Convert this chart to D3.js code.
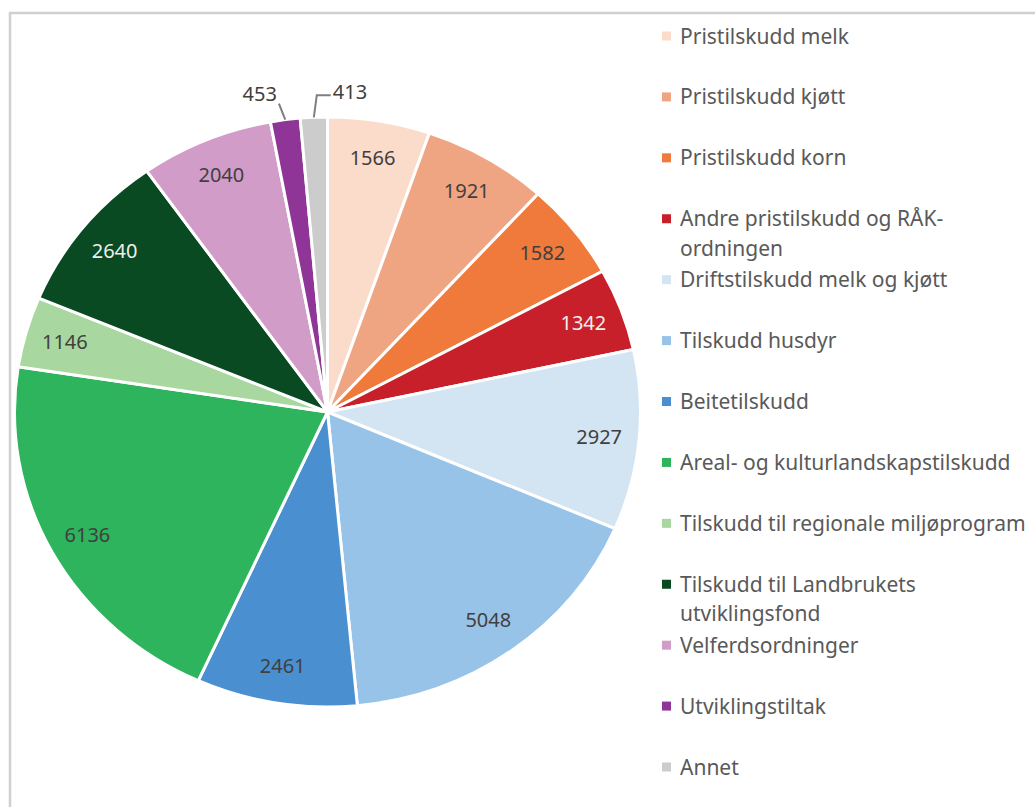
<!DOCTYPE html>
<html><head><meta charset="utf-8">
<script src="https://cdn.jsdelivr.net/npm/d3@7"></script>
<style>body{margin:0;background:#fff}svg{display:block}</style>
</head><body><svg id="c" width="1035" height="807"></svg>
<script>
const categories = ["Pristilskudd melk","Pristilskudd kjøtt","Pristilskudd korn","Andre pristilskudd og RÅK-ordningen","Driftstilskudd melk og kjøtt","Tilskudd husdyr","Beitetilskudd","Areal- og kulturlandskapstilskudd","Tilskudd til regionale miljøprogram","Tilskudd til Landbrukets utviklingsfond","Velferdsordninger","Utviklingstiltak","Annet"];
const legendLines = [["Pristilskudd melk"],["Pristilskudd kjøtt"],["Pristilskudd korn"],["Andre pristilskudd og RÅK-","ordningen"],["Driftstilskudd melk og kjøtt"],["Tilskudd husdyr"],["Beitetilskudd"],["Areal- og kulturlandskapstilskudd"],["Tilskudd til regionale miljøprogram"],["Tilskudd til Landbrukets","utviklingsfond"],["Velferdsordninger"],["Utviklingstiltak"],["Annet"]];
const values = [1566,1921,1582,1342,2927,5048,2461,6136,1146,2640,2040,453,413];
const colors = ["#fbdccb","#f0a582","#ef7a3c","#c8202a","#d3e4f3","#98c3e8","#4a8fcf","#2db45c","#a8d8a0","#0a4a22","#d29cc8","#8e3597","#cccccc"];
const whiteLabel = [false,false,false,true,false,false,false,false,false,true,false,false,false];
const outsideLabel = [false,false,false,false,false,false,false,false,false,false,false,true,true];

const svg = d3.select("#c");
const W = 1035, H = 807;
const FONT = "Noto Sans, sans-serif";
// frame
svg.append("rect").attr("x",10).attr("y",13).attr("width",W+20).attr("height",H+20)
  .attr("fill","none").attr("stroke","#d0d0d0").attr("stroke-width",2.5);

const cx = 327.5, cy = 412, rx = 313, ry = 295;
const sy = ry/rx;
const pie = d3.pie().sort(null).value(d=>d)(values);
const arc = d3.arc().innerRadius(0).outerRadius(rx);

const g = svg.append("g").attr("transform",`translate(${cx},${cy}) scale(1,${sy})`);
g.selectAll("path").data(pie).join("path")
  .attr("d",arc).attr("fill",(d,i)=>colors[i])
  .attr("stroke","#fff").attr("stroke-width",3).attr("vector-effect","non-scaling-stroke")
  .attr("stroke-linejoin","round");

function pt(a, r){ return [cx + Math.sin(a)*r, cy - Math.cos(a)*r*sy]; }

const lg = svg.append("g");
pie.forEach((d,i)=>{
  const a = (d.startAngle+d.endAngle)/2;
  if(!outsideLabel[i]){
    const [x,y] = pt(a, rx*0.872);
    lg.append("text").attr("x",x).attr("y",y).attr("dy","0.36em")
      .attr("text-anchor","middle").attr("font-family",FONT)
      .attr("font-size",20).attr("fill", whiteLabel[i]?"#eeeeee":"#404040")
      .text(values[i]);
  }
});
// outside labels with leader lines
(function(){
  const i = 11, d = pie[i], a=(d.startAngle+d.endAngle)/2;
  const p0 = pt(a, rx*1.0), p1 = pt(a, rx*1.055);
  lg.append("path").attr("d",d3.line()([p0,[p1[0]-4,p1[1]]])).attr("stroke","#7f7f7f").attr("stroke-width",2).attr("fill","none");
  lg.append("text").attr("x",p1[0]-6).attr("y",p1[1]-10).attr("dy","0.36em").attr("text-anchor","end")
    .attr("font-family",FONT).attr("font-size",20).attr("fill","#404040").text(values[i]);
})();
(function(){
  const i = 12, d = pie[i], a=(d.startAngle+d.endAngle)/2;
  const p0 = pt(a, rx*1.0), p1 = pt(a, rx*1.075);
  const e = [p1[0]+4, p1[1]];
  lg.append("path").attr("d",d3.line()([p0,e,[e[0]+14,e[1]]])).attr("stroke","#7f7f7f").attr("stroke-width",2).attr("fill","none");
  lg.append("text").attr("x",e[0]+16).attr("y",e[1]-3).attr("dy","0.36em").attr("text-anchor","start")
    .attr("font-family",FONT).attr("font-size",20).attr("fill","#404040").text(values[i]);
})();

// legend
const legY = d3.scaleLinear().domain([0,12]).range([36,767]);
const leg = svg.append("g");
categories.forEach((c,i)=>{
  const y = legY(i);
  leg.append("rect").attr("x",662).attr("y",y-4.5).attr("width",9).attr("height",9).attr("fill",colors[i]);
  const t = leg.append("text").attr("x",680).attr("y",y)
    .attr("font-family",FONT).attr("font-size",21).attr("fill","#595959");
  legendLines[i].forEach((ln,j)=>{
    t.append("tspan").attr("x",680).attr("dy", j===0?"0.36em":"1.4em").text(ln);
  });
});
</script></body></html>
